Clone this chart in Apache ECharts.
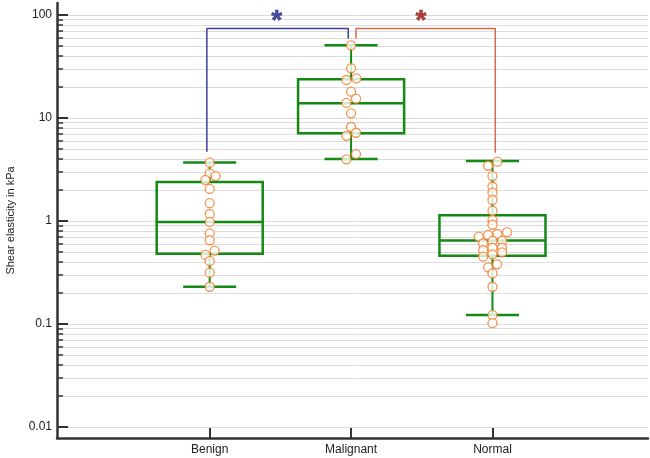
<!DOCTYPE html>
<html>
<head>
<meta charset="utf-8">
<script src="https://cdn.jsdelivr.net/npm/echarts@6/dist/echarts.min.js"></script>
<style>
  html, body { margin: 0; padding: 0; background: #fff; }
  #chart { width: 650px; height: 458px; }
</style>
</head>
<body>
<div id="chart"></div>
<script>
var categories = ['Benign', 'Malignant', 'Normal'];

// box stats per group: [low whisker, q1, median, q3, high whisker]
var benignBox = [0.23, 0.48, 0.98, 2.39, 3.7];
var malignantBox = [3.99, 7.1, 13.9, 23.8, 51];
var normalBox = [0.122, 0.46, 0.648, 1.14, 3.83];

// individual measurements and their horizontal jitter (in category units)
var benignValues = [3.68, 2.9, 2.73, 2.5, 2.05, 1.49, 1.17, 0.98, 0.76, 0.65, 0.515, 0.468, 0.41, 0.315, 0.23];
var benignOffsets = [0, 0, 0.042, -0.03, 0, 0, 0, 0, 0, 0, 0.035, -0.03, 0, 0, 0];
var malignantValues = [50.8, 30.4, 24.3, 23.4, 18.0, 15.4, 14.0, 11.1, 8.18, 7.19, 6.72, 4.47, 3.97];
var malignantOffsets = [0, 0, 0.038, -0.033, 0, 0.035, -0.033, 0, 0, 0.035, -0.033, 0.035, -0.033];
var normalValues = [3.77, 3.44, 2.73, 2.15, 1.88, 1.6, 1.26, 1.02, 0.92, 0.78, 0.748, 0.731, 0.705, 0.64, 0.64,
                    0.607, 0.55, 0.55, 0.523, 0.496, 0.475, 0.45, 0.38, 0.355, 0.31, 0.23, 0.122, 0.102];
var normalOffsets = [0.035, -0.031, 0, 0, 0, 0, 0, 0, 0, 0.103, 0.035, -0.031, -0.097, 0, 0.068,
                     -0.066, 0, 0.068, -0.066, 0.068, 0, -0.066, 0.033, -0.031, 0, 0, 0, 0];

// significance brackets [x, value]
var bracketBlue = [[0.98, 4.7], [0.98, 74], [1.98, 74], [1.98, 59]];
var bracketRed = [[2.035, 59], [2.035, 74], [3.02, 74], [3.02, 4.6]];
var starBlue = [[1.474, 100]];
var starRed = [[2.494, 100]];

var majorTicks = [0.01, 0.1, 1, 10, 100];
var allTicks = [];
[0.01, 0.1, 1, 10].forEach(function (d) {
    for (var k = 1; k <= 9; k++) allTicks.push(+(d * k).toPrecision(3));
});
allTicks.push(100);

var yMin = 0.00782, yMax = 130.8;
var xMin = -0.08, xMax = 4.1;
var green = '#138a13';
var font = 'Liberation Sans';

var boxData = [benignBox, malignantBox, normalBox].map(function (b, i) {
    return [i + 1].concat(b);
});

function points(values, offsets, idx) {
    return values.map(function (v, i) { return [idx + offsets[i], v]; });
}

function renderBox(params, api) {
    var x = api.value(0);
    var low = api.coord([x, api.value(1)]);
    var q1 = api.coord([x, api.value(2)]);
    var med = api.coord([x, api.value(3)]);
    var q3 = api.coord([x, api.value(4)]);
    var high = api.coord([x, api.value(5)]);
    var left = api.coord([x - 0.375, api.value(3)])[0];
    var right = api.coord([x + 0.375, api.value(3)])[0];
    var cx = med[0];
    var cap = (right - left) / 4;
    var st = { stroke: green, lineWidth: 2.5, fill: null };
    return {
        type: 'group',
        children: [
            { type: 'line', shape: { x1: cx, y1: q3[1], x2: cx, y2: high[1] }, style: { stroke: green, lineWidth: 2 } },
            { type: 'line', shape: { x1: cx, y1: q1[1], x2: cx, y2: low[1] }, style: { stroke: green, lineWidth: 2 } },
            { type: 'line', shape: { x1: cx - cap, y1: high[1], x2: cx + cap, y2: high[1] }, style: st },
            { type: 'line', shape: { x1: cx - cap, y1: low[1], x2: cx + cap, y2: low[1] }, style: st },
            { type: 'rect', shape: { x: left, y: q3[1], width: right - left, height: q1[1] - q3[1] }, style: st },
            { type: 'line', shape: { x1: left, y1: med[1], x2: right, y2: med[1] }, style: st }
        ]
    };
}

var chart = echarts.init(document.getElementById('chart'));

var pointStyle = { color: '#fff', borderColor: '#f07a26', borderWidth: 1.3 };

function starSeries(data, color) {
    return {
        type: 'scatter', xAxisIndex: 0, yAxisIndex: 0,
        data: data, symbol: 'circle', symbolSize: 1,
        itemStyle: { color: 'rgba(0,0,0,0)' },
        silent: true, z: 6,
        label: {
            show: true, position: 'inside', formatter: '*', offset: [0, 6],
            color: color, fontSize: 28, fontWeight: 'bold', fontFamily: font,
            textBorderColor: color, textBorderWidth: 0.6
        }
    };
}

chart.setOption({
    animation: false,
    backgroundColor: '#fff',
    grid: [
        { left: 57, right: 2, top: 3, bottom: 20, outerBoundsMode: 'none', containLabel: false },
        { left: 57, right: 2, top: 3, bottom: 20, outerBoundsMode: 'none', containLabel: false }
    ],
    xAxis: [
        {
            type: 'value', gridIndex: 0, min: xMin, max: xMax,
            axisLine: { onZero: false, lineStyle: { color: '#333', width: 2.5 } },
            axisTick: { inside: true, length: 10, customValues: [1, 2, 3], lineStyle: { color: '#333', width: 2 } },
            axisLabel: {
                customValues: [1, 2, 3], margin: 6,
                formatter: function (v) { return categories[Math.round(v) - 1]; },
                color: '#222', fontSize: 12, fontFamily: font
            },
            splitLine: { show: false }
        },
        { type: 'value', gridIndex: 1, min: xMin, max: xMax, show: false }
    ],
    yAxis: [
        {
            type: 'log', gridIndex: 0, logBase: 10, min: yMin, max: yMax,
            name: 'Shear elasticity in kPa', nameLocation: 'middle', nameRotate: 90, nameGap: 41,
            nameMoveOverlap: false,
            nameTextStyle: { color: '#222', fontSize: 11, fontFamily: font },
            axisLine: { onZero: false, lineStyle: { color: '#333', width: 2.5 } },
            axisTick: { inside: true, length: 11, customValues: majorTicks, lineStyle: { color: '#333', width: 2 } },
            axisLabel: {
                customValues: majorTicks, margin: 5,
                formatter: function (v) { return String(+v.toPrecision(2)); },
                color: '#222', fontSize: 12, fontFamily: font
            },
            splitLine: { show: false }
        },
        {
            type: 'log', gridIndex: 1, logBase: 10, min: yMin, max: yMax,
            axisLine: { show: false, onZero: false },
            axisTick: { inside: true, length: 6, customValues: allTicks, lineStyle: { color: '#333', width: 1.5 } },
            axisLabel: { show: false },
            splitLine: { show: true, lineStyle: { color: '#dcdcdc', width: 1 } }
        }
    ],
    series: [
        {
            type: 'custom', xAxisIndex: 0, yAxisIndex: 0,
            renderItem: renderBox, data: boxData, z: 3,
            encode: { x: 0, y: [1, 2, 3, 4, 5] }
        },
        {
            type: 'line', xAxisIndex: 0, yAxisIndex: 0, data: bracketBlue,
            symbol: 'none', lineStyle: { color: '#3b40a0', width: 1.5 }, z: 4, silent: true
        },
        {
            type: 'line', xAxisIndex: 0, yAxisIndex: 0, data: bracketRed,
            symbol: 'none', lineStyle: { color: '#d2694a', width: 1.5 }, z: 4, silent: true
        },
        {
            type: 'scatter', xAxisIndex: 0, yAxisIndex: 0, z: 5,
            data: points(benignValues, benignOffsets, 1)
                .concat(points(malignantValues, malignantOffsets, 2))
                .concat(points(normalValues, normalOffsets, 3)),
            symbol: 'circle', symbolSize: 9, itemStyle: pointStyle
        },
        starSeries(starBlue, '#1f2385'),
        starSeries(starRed, '#9a1414')
    ]
});
</script>
</body>
</html>
